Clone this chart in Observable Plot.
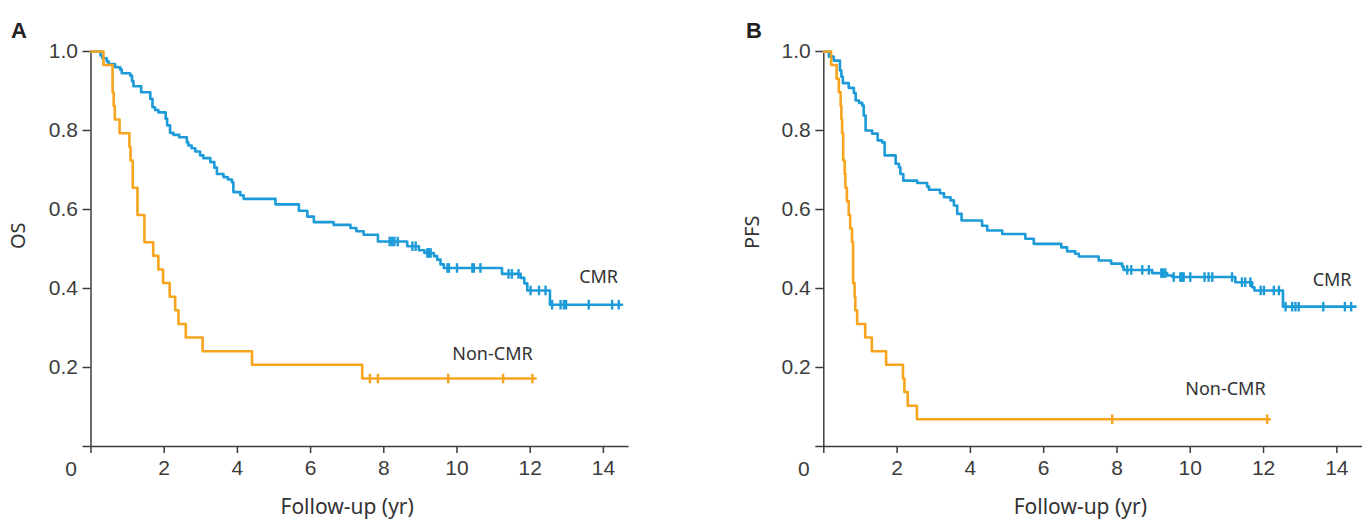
<!DOCTYPE html>
<html>
<head>
<meta charset="utf-8">
<script src="https://cdn.jsdelivr.net/npm/d3@7"></script>
<script src="https://cdn.jsdelivr.net/npm/@observablehq/plot@0.6"></script>
<style>
  html, body { margin: 0; padding: 0; background: #fff; }
  #wrap { display: flex; flex-direction: row; width: 1370px; height: 520px; }
</style>
</head>
<body>
<div id="wrap"></div>
<script>
// ---------- DATA ----------
const xTicks = [0, 2, 4, 6, 8, 10, 12, 14];
const yTicks = [0, 0.2, 0.4, 0.6, 0.8, 1.0];
const groups = ["CMR", "Non-CMR"];

// Panel A – OS, CMR
const osCmrTime = [0, 0.26, 0.31, 0.43, 0.48, 0.66, 0.80, 0.84, 1.07, 1.12, 1.16, 1.37, 1.62, 1.68, 1.75, 1.84, 2.04, 2.08, 2.16, 2.25, 2.41, 2.62, 2.66, 2.75, 2.85, 2.98, 3.07, 3.26, 3.37, 3.44, 3.62, 3.74, 3.85, 3.89, 4.08, 4.17, 5.04, 5.68, 5.91, 6.09, 6.63, 7.09, 7.25, 7.45, 7.84, 8.64, 8.96, 9.11, 9.37, 9.46, 9.55, 9.64, 11.23, 11.74, 11.84, 11.92, 12.54];
const osCmrSurv = [1.0, 0.990, 0.983, 0.975, 0.968, 0.960, 0.954, 0.945, 0.939, 0.925, 0.912, 0.897, 0.880, 0.859, 0.852, 0.846, 0.830, 0.813, 0.794, 0.789, 0.783, 0.770, 0.762, 0.755, 0.747, 0.737, 0.730, 0.720, 0.706, 0.690, 0.682, 0.676, 0.669, 0.644, 0.636, 0.627, 0.613, 0.597, 0.582, 0.568, 0.561, 0.553, 0.545, 0.536, 0.519, 0.507, 0.497, 0.490, 0.482, 0.473, 0.461, 0.452, 0.437, 0.427, 0.413, 0.395, 0.359];
const osCmrCensor = [8.16, 8.23, 8.29, 8.38, 8.78, 8.87, 9.19, 9.23, 9.28, 9.74, 9.78, 10.0, 10.42, 10.46, 10.64, 11.41, 11.50, 11.68, 12.01, 12.24, 12.42, 12.60, 12.83, 12.92, 12.98, 13.60, 14.24, 14.42];
const osCmrEnd = 14.51;

// Panel A – OS, Non-CMR
const osNonTime = [0, 0.34, 0.59, 0.62, 0.65, 0.78, 1.05, 1.08, 1.14, 1.27, 1.46, 1.70, 1.84, 1.97, 2.15, 2.30, 2.39, 2.59, 3.05, 4.40, 7.41];
const osNonSurv = [1.0, 0.966, 0.897, 0.862, 0.828, 0.793, 0.759, 0.724, 0.655, 0.586, 0.517, 0.483, 0.448, 0.414, 0.379, 0.345, 0.310, 0.276, 0.241, 0.207, 0.172];
const osNonCensor = [7.62, 7.84, 9.76, 11.26, 12.06];
const osNonEnd = 12.15;

// Panel B – PFS, CMR
const pfsCmrTime = [0, 0.14, 0.27, 0.44, 0.48, 0.52, 0.68, 0.82, 0.87, 0.96, 1.05, 1.09, 1.14, 1.32, 1.47, 1.59, 1.66, 1.96, 2.05, 2.09, 2.17, 2.55, 2.82, 2.87, 3.17, 3.28, 3.46, 3.55, 3.64, 3.76, 4.32, 4.46, 4.87, 5.50, 5.73, 6.48, 6.64, 6.86, 6.96, 7.50, 7.84, 8.14, 8.18, 8.96, 9.37, 9.51, 11.23, 11.69, 11.75, 12.53];
const pfsCmrSurv = [1.0, 0.987, 0.977, 0.952, 0.936, 0.920, 0.908, 0.895, 0.876, 0.870, 0.863, 0.838, 0.800, 0.792, 0.775, 0.770, 0.737, 0.716, 0.707, 0.690, 0.673, 0.667, 0.658, 0.650, 0.641, 0.631, 0.623, 0.610, 0.589, 0.572, 0.559, 0.547, 0.538, 0.526, 0.513, 0.504, 0.494, 0.488, 0.481, 0.471, 0.463, 0.456, 0.447, 0.439, 0.433, 0.429, 0.416, 0.403, 0.395, 0.354];
const pfsCmrCensor = [8.28, 8.39, 8.69, 8.87, 9.21, 9.26, 9.32, 9.55, 9.73, 9.78, 9.82, 10.0, 10.39, 10.50, 10.60, 11.14, 11.41, 11.50, 11.64, 11.92, 12.01, 12.28, 12.42, 12.60, 12.78, 12.87, 12.96, 13.63, 14.22, 14.39];
const pfsCmrEnd = 14.51;

// Panel B – PFS, Non-CMR
const pfsNonTime = [0, 0.20, 0.35, 0.41, 0.46, 0.48, 0.50, 0.53, 0.57, 0.59, 0.63, 0.68, 0.72, 0.77, 0.80, 0.84, 0.86, 0.91, 1.13, 1.31, 1.70, 2.16, 2.20, 2.29, 2.54];
const pfsNonSurv = [1.0, 0.966, 0.931, 0.897, 0.862, 0.828, 0.793, 0.724, 0.690, 0.655, 0.621, 0.586, 0.552, 0.517, 0.414, 0.379, 0.345, 0.310, 0.276, 0.241, 0.207, 0.172, 0.138, 0.103, 0.069];
const pfsNonCensor = [7.87, 12.10];
const pfsNonEnd = 12.17;

// ---------- STYLE ----------
const colors = {"CMR": "#1c9bd8", "Non-CMR": "#f7a51f"};
const axisColor = "#3c3c3c";
const tickFont = "'Liberation Sans', Arial, sans-serif";
const labelFont = "'Noto Sans', 'Open Sans', sans-serif";

function steps(times, surv, end) {
  const pts = times.map((t, i) => ({t, s: surv[i]}));
  pts.push({t: end, s: surv[surv.length - 1]});
  return pts;
}
function survAt(times, surv, c) {
  let s = 1;
  for (let i = 0; i < times.length; i++) if (times[i] <= c) s = surv[i];
  return s;
}
const censorSymbol = {
  draw(context, size) {
    const r = Math.sqrt(size / Math.PI);
    context.moveTo(0, -r);
    context.lineTo(0, r);
  }
};

function panel(cfg) {
  const marks = [];
  marks.push(Plot.ruleY([0], {stroke: axisColor, strokeWidth: 1.5}));
  marks.push(Plot.ruleX([0], {stroke: axisColor, strokeWidth: 1.5}));
  marks.push(Plot.axisX({ticks: xTicks, tickSize: 7, tickPadding: 7, tickFormat: d => d === 0 ? "" : String(d),
    color: axisColor, strokeWidth: 1.5, fontSize: 21, fontFamily: tickFont, label: null}));
  marks.push(Plot.axisY({ticks: yTicks, tickSize: 8, tickPadding: 5, tickFormat: d => d === 0 ? "" : d3.format(".1f")(d),
    color: axisColor, strokeWidth: 1.5, fontSize: 21, fontFamily: tickFont, label: null}));
  // shared origin label
  marks.push(Plot.text(["0"], {x: 0, y: 0, text: d => d, dx: -20, dy: 23, fontSize: 21, fontFamily: tickFont, fill: axisColor}));
  for (const s of cfg.series) {
    marks.push(Plot.line(steps(s.time, s.surv, s.end), {x: "t", y: "s", curve: "step-after", stroke: colors[s.name], strokeWidth: 2.6}));
    marks.push(Plot.dot(s.censor.map(c => ({t: c, s: survAt(s.time, s.surv, c)})),
      {x: "t", y: "s", symbol: censorSymbol, r: 4.8, stroke: colors[s.name], strokeWidth: 2.4}));
    marks.push(Plot.text([s.name], {x: s.labelAt[0], y: s.labelAt[1], text: d => d, fontSize: 18, fontFamily: labelFont, fill: "#333"}));
  }
  // axis titles
  marks.push(Plot.text(["Follow-up (yr)"], {x: 7, frameAnchor: "bottom", lineAnchor: "bottom", dy: 67, text: d => d,
    fontSize: 21, fontFamily: labelFont, fill: "#333"}));
  marks.push(Plot.text([cfg.yLabel], {frameAnchor: "left", rotate: -90, dx: cfg.yLabelDx, text: d => d,
    fontSize: 20, fontFamily: labelFont, fill: "#333"}));
  marks.push(Plot.text([cfg.letter], {frameAnchor: "top-left", textAnchor: "start", dx: cfg.letterDx, dy: -29, text: d => d,
    fontSize: 22, fontWeight: "bold", fontFamily: tickFont, fill: "#222"}));
  return Plot.plot({
    width: cfg.width,
    height: 520,
    marginLeft: cfg.marginLeft,
    marginRight: cfg.marginRight,
    marginTop: 51,
    marginBottom: 74,
    x: {domain: [0, 14.7]},
    y: {domain: [0, 1]},
    style: {background: "#fff", fontFamily: tickFont, overflow: "visible"},
    marks
  });
}

const wrap = document.getElementById("wrap");
wrap.appendChild(panel({
  letter: "A", letterDx: -80, yLabel: "OS", yLabelDx: -72.5,
  width: 685, marginLeft: 90.5, marginRight: 56.5,
  series: [
    {name: groups[0], time: osCmrTime, surv: osCmrSurv, censor: osCmrCensor, end: osCmrEnd, labelAt: [13.87, 0.429]},
    {name: groups[1], time: osNonTime, surv: osNonSurv, censor: osNonCensor, end: osNonEnd, labelAt: [10.97, 0.233]}
  ]
}));
wrap.appendChild(panel({
  letter: "B", letterDx: -77.8, yLabel: "PFS", yLabelDx: -71.3,
  width: 685, marginLeft: 138.3, marginRight: 8,
  series: [
    {name: groups[0], time: pfsCmrTime, surv: pfsCmrSurv, censor: pfsCmrCensor, end: pfsCmrEnd, labelAt: [13.87, 0.422]},
    {name: groups[1], time: pfsNonTime, surv: pfsNonSurv, censor: pfsNonCensor, end: pfsNonEnd, labelAt: [10.96, 0.146]}
  ]
}));
</script>
</body>
</html>
